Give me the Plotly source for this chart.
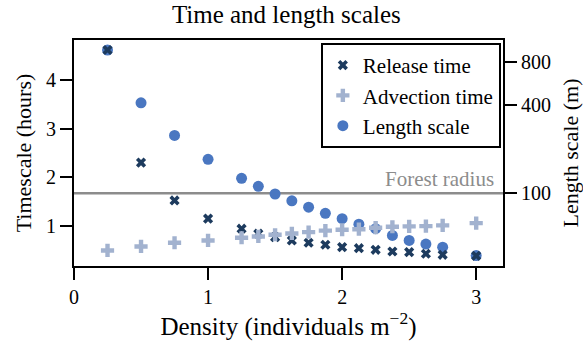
import math
import plotly.graph_objects as go

# Density of individuals (m^-2)
density = [0.25, 0.5, 0.75, 1.0, 1.25, 1.375, 1.5, 1.625, 1.75, 1.875,
           2.0, 2.125, 2.25, 2.375, 2.5, 2.625, 2.75, 3.0]

# Timescales (hours)
release_time = [4.62, 2.30, 1.52, 1.145, 0.938, 0.835, 0.765, 0.696, 0.649, 0.608,
                0.558, 0.537, 0.504, 0.469, 0.455, 0.422, 0.401, 0.38]
advection_time = [0.49, 0.573, 0.649, 0.696, 0.752, 0.779, 0.814, 0.841, 0.868, 0.899,
                  0.917, 0.928, 0.959, 0.979, 0.986, 0.992, 1.006, 1.054]

# Length scale (m)
length_scale = [960, 417, 249, 171, 126.6, 111.6, 98.8, 88.7, 80.3, 72.8,
                66.9, 61.4, 57.1, 51.4, 47.5, 44.8, 42.7, 37.4]

forest_radius = 100

x_ticks = [0, 1, 2, 3]
time_ticks = [1, 2, 3, 4]
length_ticks = [100, 400, 800]

FONT = "'Liberation Serif', 'Times New Roman', Times, 'DejaVu Serif', serif"
C_RELEASE = "#1d3b5e"
C_ADVECT = "#a2b2cf"
C_LENGTH = "#4a77c1"
C_FOREST = "#8c8c8c"

fig = go.Figure()

# Length-scale axis is the base layer ("y"), hours overlay it ("y2")
fig.add_trace(go.Scatter(
    x=[0, 3.2], y=[forest_radius, forest_radius], mode="lines",
    line=dict(color=C_FOREST, width=2.5), showlegend=False, hoverinfo="skip",
    yaxis="y"))
fig.add_trace(go.Scatter(
    x=density, y=length_scale, mode="markers", name="Length scale",
    marker=dict(symbol="circle", size=11, color=C_LENGTH),
    yaxis="y", legendrank=3))
fig.add_trace(go.Scatter(
    x=density, y=release_time, mode="markers", name="Release time",
    marker=dict(symbol="x", size=9, color=C_RELEASE),
    yaxis="y2", legendrank=1))
fig.add_trace(go.Scatter(
    x=density, y=advection_time, mode="markers", name="Advection time",
    marker=dict(symbol="cross", size=11, color=C_ADVECT),
    yaxis="y2", legendrank=2))

fig.add_annotation(
    text="Forest radius", xref="x", x=3.15, yref="y", y=math.log10(forest_radius),
    xanchor="right", yanchor="bottom", yshift=0, showarrow=False,
    font=dict(family=FONT, size=21, color=C_FOREST))

axis_common = dict(
    showline=True, linecolor="black", linewidth=2, ticks="outside",
    ticklen=12, tickwidth=2, tickcolor="black", showgrid=False, zeroline=False,
    automargin=False,
    tickfont=dict(family=FONT, size=20, color="black"),
)

fig.update_layout(
    width=583, height=346,
    margin=dict(l=74, r=80, t=40, b=80, autoexpand=False),
    plot_bgcolor="white", paper_bgcolor="white",
    font=dict(family=FONT, color="black"),
    title=dict(text="Time and length scales", x=0.495, xref="paper",
               y=1 - 14 / 346, yref="container", yanchor="middle",
               font=dict(family=FONT, size=25, color="black")),
    xaxis=dict(range=[0, 3.2], tickvals=x_ticks, mirror=True,
               title=dict(text="Density (individuals m<sup>\u22122</sup>)",
                          font=dict(family=FONT, size=25, color="black"), standoff=6),
               **axis_common),
    yaxis=dict(type="log", range=[1.501, 3.051], side="right",
               tickvals=length_ticks, ticktext=[str(v) for v in length_ticks],
               title=dict(text="Length scale (m)",
                          font=dict(family=FONT, size=22, color="black"), standoff=20),
               **axis_common),
    yaxis2=dict(range=[0.17, 4.826], side="left", overlaying="y",
                tickvals=time_ticks,
                title=dict(text="Timescale (hours)",
                           font=dict(family=FONT, size=22, color="black"), standoff=8),
                **axis_common),
    legend=dict(x=0.995, xanchor="right", y=0.987, yanchor="top",
                bordercolor="black", borderwidth=2, bgcolor="white",
                font=dict(family=FONT, size=21, color="black"),
                itemwidth=30, tracegroupgap=0),
    showlegend=True,
)

fig.write_html("out.html")
